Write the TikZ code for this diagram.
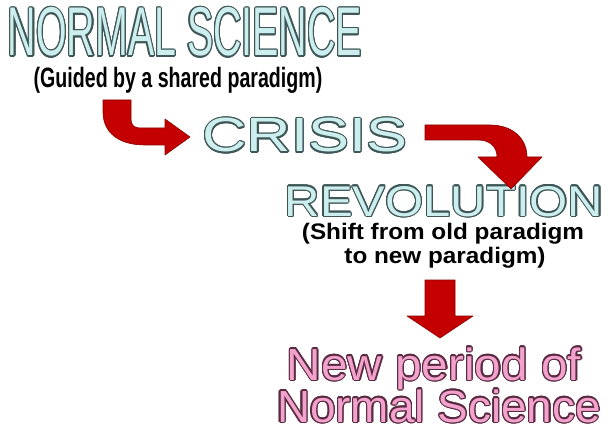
\documentclass[tikz,border=0pt]{standalone}
\usepackage{fontspec}
\usepackage{contour}
\setmainfont{Liberation Sans}
\newfontfamily\narrowfont[FakeStretch=0.57]{Liberation Sans}
\newfontfamily\guidefont[FakeStretch=0.70]{Liberation Sans}
\newfontfamily\crisisfont[FakeStretch=1.28]{Liberation Sans}
\newfontfamily\revfont[FakeStretch=1.14]{Liberation Sans}
\newfontfamily\shiftfont[FakeStretch=1.08]{Liberation Sans}
\newfontfamily\periodfont[FakeStretch=1.06]{Liberation Sans}
\newfontfamily\normsfont[FakeStretch=1.02]{Liberation Sans}
\contourlength{1.2pt}
\contournumber{16}
\definecolor{titlecyan}{HTML}{CDEEEE}
\definecolor{titleedge}{HTML}{3E5656}
\definecolor{titlepink}{HTML}{F2A2CC}
\definecolor{pinkedge}{HTML}{5A2A40}
\definecolor{arrowred}{HTML}{C40000}
\tikzset{
    cyan-title/.style={
        text=titlecyan, inner sep=0, anchor=base
    },
    pink-title/.style={
        text=titlepink, inner sep=0, anchor=base
    },
    note-text/.style={
        text=black, inner sep=0, anchor=base
    },
    red-block/.style={
        fill=arrowred, draw=arrowred!70!black, line width=.6pt, line join=round
    },
}

\begin{document}
\begin{tikzpicture}[x=1pt, y=-1pt]

        \useasboundingbox (0,0) rectangle (611,425);

        % TITLES
        \node[cyan-title, font={\narrowfont\fontsize{69}{71}\selectfont}] (NORMAL) at (185,56)  {\contour{titleedge}{NORMAL SCIENCE}};
        \node[note-text, font={\guidefont\bfseries\fontsize{28}{30}\selectfont}] (GUIDED) at (178,88) {(Guided by a shared paradigm)};
        \node[cyan-title, font={\crisisfont\fontsize{48}{50}\selectfont}] (CRISIS) at (305,152) {\contour{titleedge}{CRISIS}};
        \node[cyan-title, font={\revfont\fontsize{43}{45}\selectfont}] (REVOL) at (444,216) {\contour{titleedge}{REVOLUTION}};

        % SHIFT NOTE
        \node[note-text, font={\shiftfont\bfseries\fontsize{22.5}{24}\selectfont}] (SHIFT1) at (443,240) {(Shift from old paradigm};
        \node[note-text, font={\shiftfont\bfseries\fontsize{22.5}{24}\selectfont}] (SHIFT2) at (445,263) {to new paradigm)};

        % NEW PERIOD
        \node[pink-title, font={\periodfont\fontsize{45}{47}\selectfont}] (NEWPER) at (434,380) {\contour{pinkedge}{New period of}};
        \node[pink-title, font={\normsfont\fontsize{45}{47}\selectfont}] (NORMSC) at (439,422) {\contour{pinkedge}{Normal Science}};

        % ARROW GUIDED -> CRISIS
        \draw[red-block] (103,100) -- (131,100) -- (131,119)
            .. controls (131,125) and (134,128) .. (140,128) -- (165,128) -- (165,119)
            -- (190,137) -- (165,155) -- (165,145) -- (145,145)
            .. controls (118,145) and (103,132) .. (103,112) -- cycle;

        % ARROW CRISIS -> REVOLUTION
        \draw[red-block] (425,125) -- (490,125)
            .. controls (512,125) and (527,138) .. (527,157) -- (542,157)
            -- (511,189) -- (478,157) -- (497,157)
            .. controls (497,147) and (490,140) .. (478,140) -- (425,140) -- cycle;

        % ARROW REVOLUTION -> NEW PERIOD
        \draw[red-block] (425,280) -- (455,280) -- (455,316) -- (473,316)
            -- (440,338) -- (407,316) -- (425,316) -- cycle;

\end{tikzpicture}
\end{document}
